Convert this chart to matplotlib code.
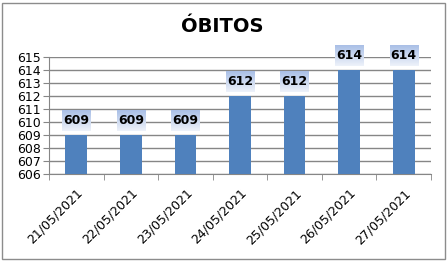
import numpy as np
import matplotlib
matplotlib.use("Agg")
from matplotlib import pyplot as plt
from matplotlib.patches import Rectangle

dates = ["21/05/2021", "22/05/2021", "23/05/2021", "24/05/2021",
         "25/05/2021", "26/05/2021", "27/05/2021"]
obitos = [609, 609, 609, 612, 612, 614, 614]
y_ticks = list(range(606, 616))

bar_color = "#4F81BD"
grid_color = "#868686"

fig = plt.figure(figsize=(4.47, 2.61), dpi=100)
fig.patches.append(Rectangle((2 / 447, 2 / 261), 443 / 447, 256 / 261,
                             transform=fig.transFigure, fill=False,
                             edgecolor="#8C8C8C", linewidth=1))
ax = fig.add_axes([49 / 447, 1 - 174 / 261, (431 - 49) / 447, (174 - 57) / 261])

x = np.arange(len(dates))
ax.bar(x, [v - 606 for v in obitos], bottom=606, width=0.4, color=bar_color, zorder=3)

ax.set_yticks(y_ticks)
ax.set_yticklabels([str(t) for t in y_ticks], fontsize=9)
ax.yaxis.grid(True, color=grid_color, linewidth=1)
ax.set_axisbelow(True)

ax.set_xticks(x)
ax.set_xticklabels(dates, rotation=45, ha="right", rotation_mode="anchor", fontsize=9)
ax.set_xticks(np.arange(-0.5, len(dates)), minor=True)
ax.tick_params(axis="x", which="major", length=0, pad=9)
ax.tick_params(axis="x", which="minor", length=4, color=grid_color, direction="out")
ax.tick_params(axis="y", length=4, color=grid_color, pad=2)

for s in ["top", "right"]:
    ax.spines[s].set_visible(False)
for s in ["left", "bottom"]:
    ax.spines[s].set_color(grid_color)

# value labels in gradient boxes
grad = np.linspace(0, 1, 64).reshape(-1, 1)
cmap = matplotlib.colors.LinearSegmentedColormap.from_list("lbl", ["#EEF2FA", "#A9BFE6"])
for xi, v in zip(x, obitos):
    ax.imshow(grad, cmap=cmap, extent=(xi - 0.26, xi + 0.26, v + 0.3, v + 1.9),
              aspect="auto", origin="lower", zorder=4, clip_on=False)
    ax.text(xi, v + 1.1, str(v), ha="center", va="center", fontsize=9,
            fontweight="bold", zorder=5, clip_on=False)
ax.set_xlim(-0.5, len(dates) - 0.5)
ax.set_ylim(606, 615)

fig.text(0.497, 1 - 27 / 261, "ÓBITOS", ha="center", va="center",
         fontsize=14, fontweight="bold")

fig.savefig("out.png", dpi=100)
